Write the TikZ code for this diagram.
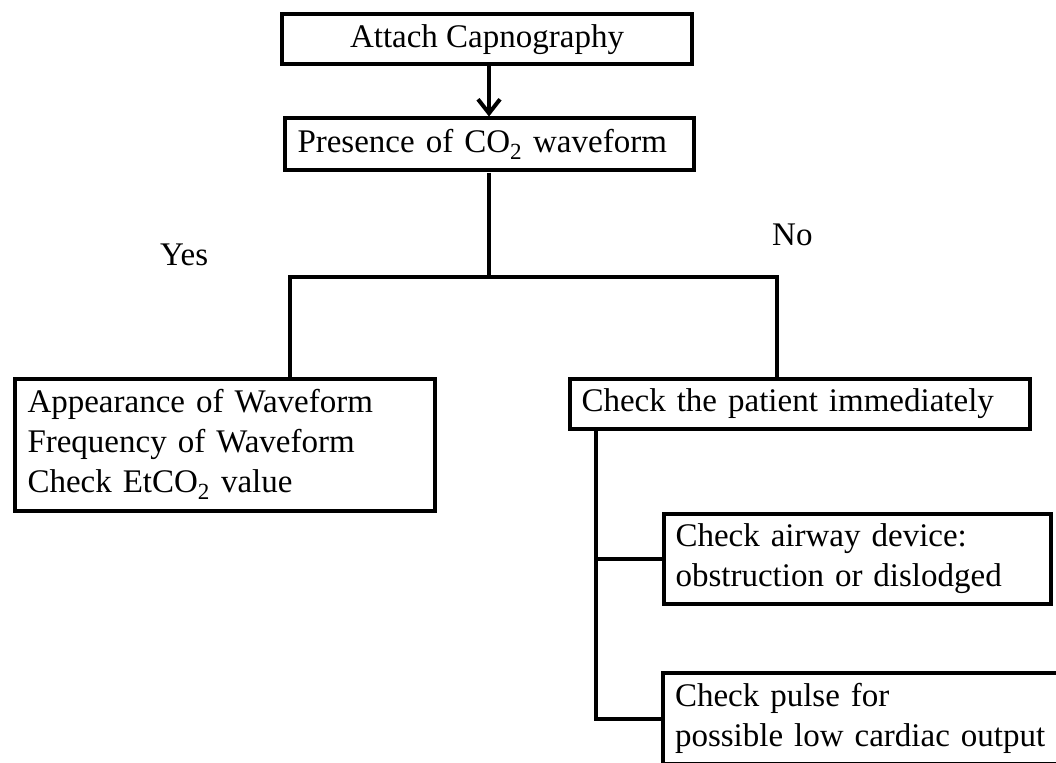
\documentclass[tikz,border=0pt]{standalone}
\usepackage{fontspec}
\setmainfont{Liberation Serif}
\usetikzlibrary{arrows.meta}
\begin{document}
\begin{tikzpicture}[x=1pt,y=-1pt,
  box/.style={draw, line width=4pt, inner sep=0pt, font=\fontsize{33}{40}\selectfont},
  conn/.style={line width=4pt},
  arr/.style={line width=4pt, -{Straight Barb[length=14pt,width=22pt]}},
  lbl/.style={font=\fontsize{33}{40}\selectfont, inner sep=0pt}]
\useasboundingbox (0,0) rectangle (1056,762);

\node[box, minimum width=410pt, minimum height=50pt, align=center] (b1) at (487,39.5) {Attach Capnography};
\node[box, minimum width=409pt, minimum height=52pt, inner xsep=13pt, text width=383pt, align=left] (b2) at (489,144.5) {Presence of CO\textsubscript{2} waveform};
\node[box, minimum width=420pt, minimum height=132pt, inner xsep=13pt, text width=394pt, align=left] (b3) at (224.5,444.5) {Appearance of Waveform\\Frequency of Waveform\\Check EtCO\textsubscript{2} value};
\node[box, minimum width=460pt, minimum height=50pt, inner xsep=12pt, text width=436pt, align=left] (b4) at (799.5,403.5) {Check the patient immediately};
\node[box, minimum width=387pt, minimum height=90pt, inner xsep=12pt, text width=363pt, align=left] (b5) at (857,558.5) {Check airway device:\\obstruction or dislodged};
\node[box, minimum width=417pt, minimum height=91pt, inner xsep=12pt, text width=393pt, align=left] (b6) at (871.5,718.5) {Check pulse for\\possible low cardiac output};

\node[lbl, anchor=base west] (yes) at (160,265) {Yes};
\node[lbl, anchor=base west] (no) at (772,245) {No};

\draw[arr] (b1.south -| b2.north) -- (b2.north);
\coordinate (ly) at (290,277);
\coordinate (ry) at (777,277);
\draw[conn] (b2.south) -- (b2.south |- ly);
\draw[conn] (ly |- b3.north) -- (ly) -- (ry) -- (ry |- b4.north);
\coordinate (tr) at (596,0);
\draw[conn] (b4.south -| tr) -- (tr |- b6.west) -- (b6.west);
\draw[conn] (tr |- b5.west) -- (b5.west);
\end{tikzpicture}
\end{document}
